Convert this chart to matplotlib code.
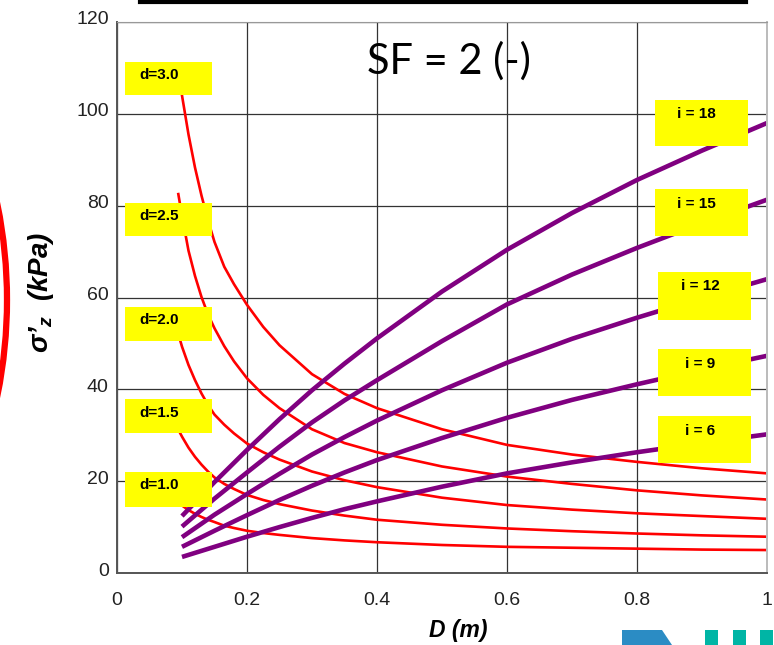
import matplotlib
matplotlib.use("Agg")
import matplotlib.pyplot as plt
from matplotlib.patches import Rectangle, Ellipse, Polygon
from matplotlib.lines import Line2D
from matplotlib.transforms import ScaledTranslation

plt.rcParams['font.family'] = ['Liberation Sans', 'DejaVu Sans']
plt.rcParams['mathtext.fontset'] = 'custom'
plt.rcParams['mathtext.it'] = 'Liberation Sans:italic:bold'
plt.rcParams['mathtext.rm'] = 'Liberation Sans:italic:bold'

# red curves: sigma'z vs D for footing depth d
D_red = [0.094, 0.1, 0.11, 0.12, 0.13, 0.14, 0.15, 0.165, 0.18, 0.2, 0.225, 0.25,
         0.3, 0.35, 0.4, 0.5, 0.6, 0.7, 0.8, 0.9, 1.0]
d_labels = ['d=3.0', 'd=2.5', 'd=2.0', 'd=1.5', 'd=1.0']
sig_d30 = [111, 104, 95.5, 88.3, 82.2, 76.8, 72.1, 66.7, 62.9, 58.4, 53.6, 49.6,
           43.3, 39.0, 35.9, 31.3, 27.9, 25.8, 24.2, 22.8, 21.7]
sig_d25 = [82.8, 77.8, 70.2, 64.7, 60.1, 56.3, 53.3, 49.4, 46.1, 42.4, 38.8, 35.9,
           31.3, 28.3, 26.3, 23.2, 21.0, 19.4, 18.0, 16.9, 16.0]
sig_d20 = [52.2, 49.3, 45.3, 42.0, 39.1, 36.6, 34.5, 32.3, 30.4, 28.2, 26.3, 24.7,
           22.1, 20.2, 18.7, 16.4, 14.8, 13.8, 13.0, 12.4, 11.8]
sig_d15 = [31.3, 29.7, 27.3, 25.3, 23.6, 22.1, 20.8, 19.4, 18.3, 17.0, 15.9, 15.0,
           13.6, 12.5, 11.6, 10.5, 9.7, 9.1, 8.6, 8.2, 7.9]
sig_d10 = [15.4, 14.7, 13.7, 12.9, 12.2, 11.6, 11.1, 10.3, 9.8, 9.2, 8.7, 8.3,
           7.6, 7.1, 6.7, 6.1, 5.7, 5.5, 5.3, 5.1, 5.0]

# purple curves: for load intensity i
D_pur = [0.1, 0.15, 0.2, 0.25, 0.3, 0.35, 0.4, 0.5, 0.6, 0.7, 0.8, 0.9, 1.0]
i_labels = ['i = 18', 'i = 15', 'i = 12', 'i = 9', 'i = 6']
sig_i18 = [12.4, 19.8, 26.8, 33.5, 39.8, 45.6, 51.1, 61.3, 70.4, 78.4, 85.6, 92.0, 98.0]
sig_i15 = [10.1, 16.2, 21.9, 27.5, 32.8, 37.6, 42.0, 50.5, 58.5, 65.0, 70.8, 76.2, 81.3]
sig_i12 = [7.8, 12.7, 17.2, 21.6, 25.8, 29.6, 33.2, 39.8, 45.8, 51.0, 55.6, 59.9, 64.0]
sig_i9 = [5.7, 9.2, 12.6, 15.9, 19.0, 21.9, 24.6, 29.4, 33.8, 37.7, 41.1, 44.3, 47.3]
sig_i6 = [3.5, 5.7, 7.9, 10.0, 12.0, 13.9, 15.6, 18.8, 21.7, 24.1, 26.3, 28.3, 30.2]

x_ticks = [0, 0.2, 0.4, 0.6, 0.8, 1.0]
x_ticklabels = ['0', '0.2', '0.4', '0.6', '0.8', '1']
y_ticks = [0, 20, 40, 60, 80, 100, 120]

fig = plt.figure(figsize=(7.74, 6.45), dpi=100)
ax = fig.add_axes([117/774, 1-573/645, 650/774, 551/645])

for s in [sig_d30, sig_d25, sig_d20, sig_d15, sig_d10]:
    ax.plot(D_red, s, color='#ff0000', lw=1.9, zorder=2, solid_capstyle='butt')
for s in [sig_i18, sig_i15, sig_i12, sig_i9, sig_i6]:
    ax.plot(D_pur, s, color='#800080', lw=3.3, zorder=2.1, solid_capstyle='butt')

ax.set_xlim(0, 1)
ax.set_ylim(0, 120)
ax.set_xticks(x_ticks)
ax.set_xticklabels(x_ticklabels)
ax.set_yticks(y_ticks)
ax.tick_params(length=0, labelsize=14, labelcolor='#222222')
ax.tick_params(axis='x', pad=14)
ax.tick_params(axis='y', pad=6)
for lab in ax.get_yticklabels():
    lab.set_transform(lab.get_transform() + ScaledTranslation(0, 0.04, fig.dpi_scale_trans))
ax.grid(True, color='#333333', lw=0.9)
ax.set_axisbelow(True)
ax.spines['left'].set_color('#555555')
ax.spines['left'].set_linewidth(1.4)
ax.spines['bottom'].set_color('#555555')
ax.spines['bottom'].set_linewidth(1.4)
ax.spines['right'].set_color('#bbbbbb')
ax.spines['right'].set_linewidth(1.4)
ax.spines['top'].set_color('#999999')
ax.spines['top'].set_linewidth(0.8)

ax.set_xlabel('D (m)', fontsize=16.5, fontweight='bold', fontstyle='italic')
ax.xaxis.set_label_coords(0.525, -0.083)
ax.set_ylabel("$\\sigma\u2019_{z}$  (kPa)", fontsize=20, fontweight='bold', fontstyle='italic')
ax.yaxis.set_label_coords(-0.094, 0.51)

ax.text(0.51, 0.93, 'SF = 2 (-)', transform=ax.transAxes, fontsize=30,
        family=['Lato', 'DejaVu Sans'], ha='center', va='center', zorder=5)

# yellow label boxes (data coords: y_bottom, y_top)
left_boxes = [(104.1, 111.3), (73.3, 80.6), (50.6, 58.0), (30.4, 37.8), (14.4, 22.1)]
for lab, (yb, yt) in zip(d_labels, left_boxes):
    ax.add_patch(Rectangle((0.0123, yb), 0.146 - 0.0123, yt - yb, facecolor='#ffff00',
                           edgecolor='none', zorder=3, clip_on=False))
    ax.text(0.035, yt - 2.9, lab, fontsize=11, fontweight='bold', ha='left', va='center', zorder=4)

right_boxes = [(0.828, 92.9, 103.1), (0.828, 73.3, 83.6), (0.833, 55.0, 65.6),
               (0.833, 38.6, 48.8), (0.833, 23.9, 34.1)]
for lab, (x0, yb, yt) in zip(i_labels, right_boxes):
    ax.add_patch(Rectangle((x0, yb), 0.142, yt - yb, facecolor='#ffff00',
                           edgecolor='none', zorder=3, clip_on=False))
    ax.text(x0 + 0.064, yt - 3.2, lab, fontsize=11, fontweight='bold', ha='center', va='center', zorder=4)

# slide decorations
fig.add_artist(Line2D([140/774, 746/774], [1-2/645, 1-2/645], color='black', lw=3, transform=fig.transFigure))
fig.add_artist(Ellipse((-4.76, 3.45), 9.66, 9.66, transform=fig.dpi_scale_trans,
                       facecolor='none', edgecolor='#ff0000', lw=4.5))
px = lambda x, y: (x/774, 1 - y/645)
fig.add_artist(Polygon([px(622, 645), px(622, 630), px(662, 630), px(672, 645)], closed=True,
                       facecolor='#2b8cc4', edgecolor='none', transform=fig.transFigure))
for xl in [705, 733, 760]:
    fig.add_artist(Rectangle(px(xl, 645), 13/774, 15/645, facecolor='#00b5a5',
                             edgecolor='none', transform=fig.transFigure))

fig.savefig('out.png', dpi=100)
